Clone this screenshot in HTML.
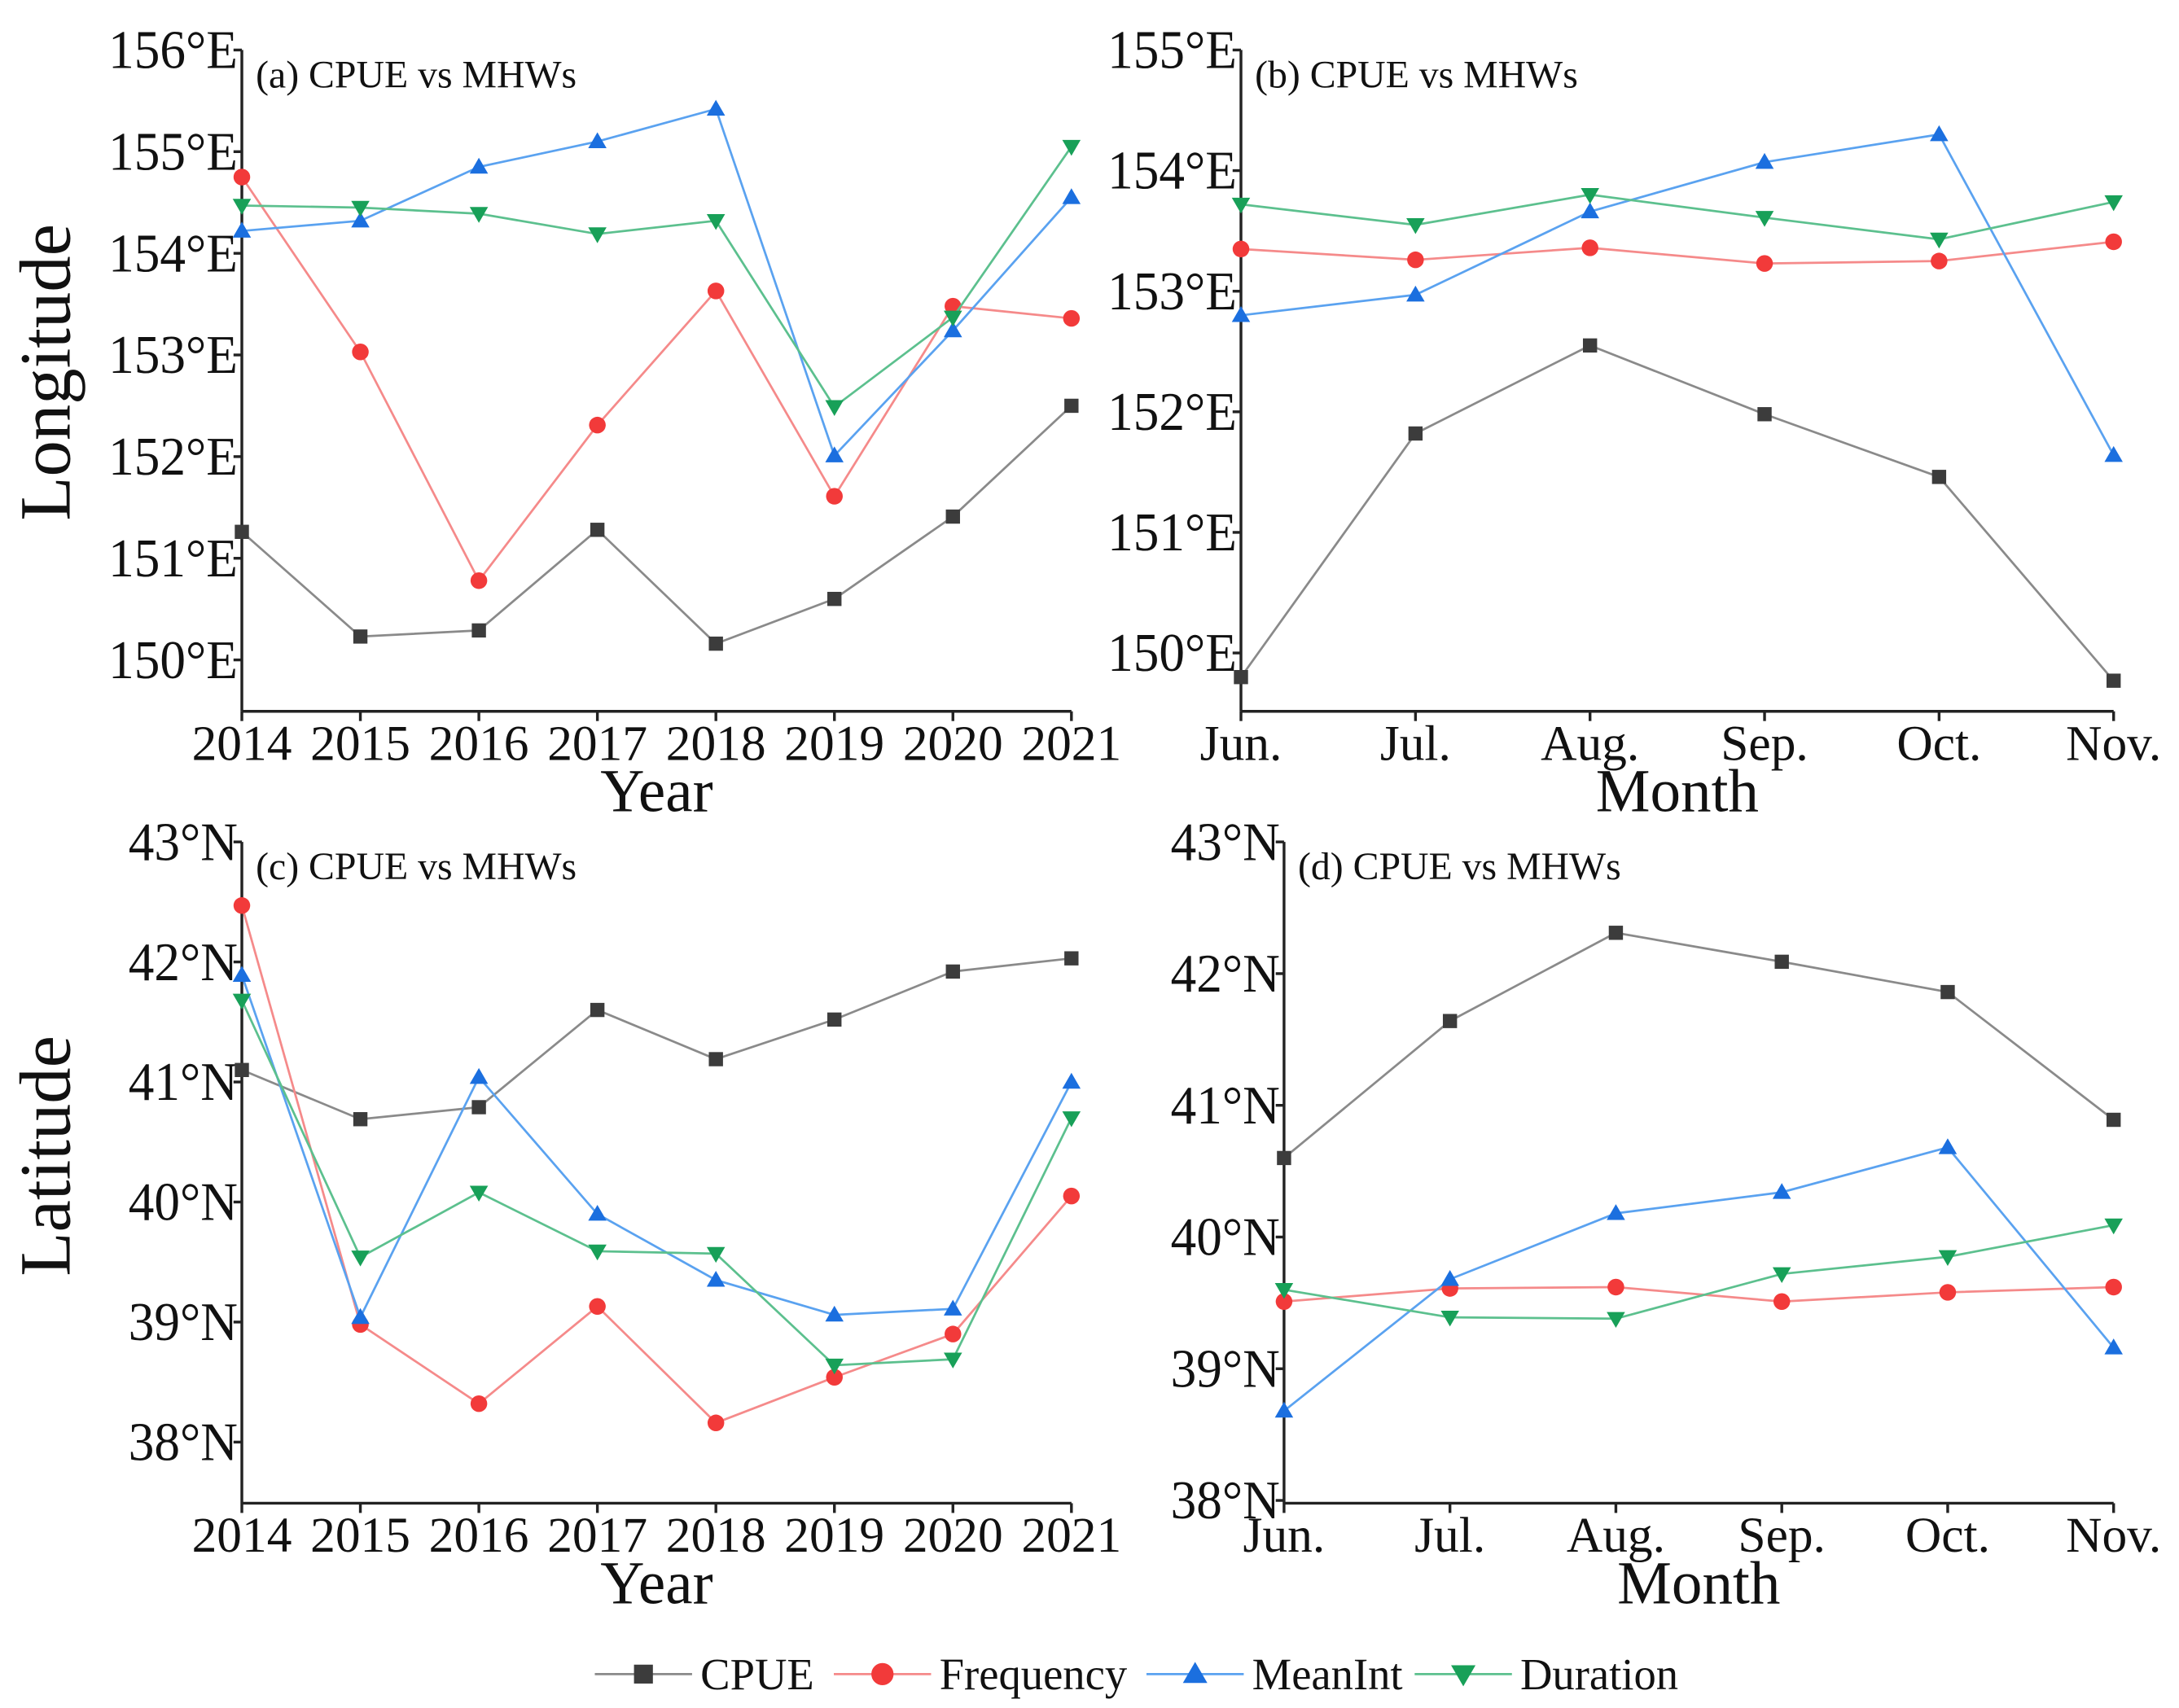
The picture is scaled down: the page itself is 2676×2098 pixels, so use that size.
<!DOCTYPE html>
<html><head><meta charset="utf-8"><style>
html,body{margin:0;padding:0;background:#fff;}
svg{display:block;}
text{font-family:"Liberation Serif",serif;fill:#111;}
</style></head><body>
<svg id="chart" width="2676" height="2098" viewBox="0 0 1568 1229.4" xmlns="http://www.w3.org/2000/svg"></svg>
<script>
const years = ["2014","2015","2016","2017","2018","2019","2020","2021"];
const months = ["Jun.","Jul.","Aug.","Sep.","Oct.","Nov."];
const seriesNames = ["CPUE","Frequency","MeanInt","Duration"];
// (a) longitude vs year
const aCPUE = [151.26,150.23,150.29,151.28,150.16,150.6,151.41,152.5];
const aFreq = [154.75,153.03,150.78,152.31,153.63,151.61,153.48,153.36];
const aMean = [154.22,154.32,154.85,155.1,155.42,152.01,153.24,154.55];
const aDur  = [154.47,154.45,154.39,154.19,154.32,152.49,153.37,155.05];
// (b) longitude vs month
const bCPUE = [149.8,151.82,152.55,151.98,151.46,149.77];
const bFreq = [153.35,153.26,153.36,153.23,153.25,153.41];
const bMean = [152.8,152.97,153.66,154.07,154.3,151.64];
const bDur  = [153.72,153.55,153.8,153.61,153.43,153.74];
// (c) latitude vs year
const cCPUE = [41.1,40.69,40.79,41.6,41.19,41.52,41.92,42.03];
const cFreq = [42.47,38.98,38.32,39.13,38.16,38.54,38.9,40.05];
const cMean = [41.89,39.04,41.04,39.9,39.35,39.06,39.11,41.0];
const cDur  = [41.68,39.54,40.08,39.59,39.57,38.64,38.69,40.7];
// (d) latitude vs month
const dCPUE = [40.6,41.64,42.31,42.09,41.86,40.89];
const dFreq = [39.51,39.61,39.62,39.51,39.58,39.62];
const dMean = [38.68,39.68,40.18,40.34,40.68,39.16];
const dDur  = [39.6,39.39,39.38,39.72,39.85,40.09];
const lonTicks = [150,151,152,153,154,155,156];
const lonTicksB = [150,151,152,153,154,155];
const latTicks = [38,39,40,41,42,43];

const NS="http://www.w3.org/2000/svg";
const svg=document.getElementById('chart');
function el(tag,attrs,parent){const e=document.createElementNS(NS,tag);for(const k in attrs)e.setAttribute(k,attrs[k]);(parent||svg).appendChild(e);return e;}
const colors=[{l:"#8a8a8a",m:"#3c3c3c"},{l:"#f58a8a",m:"#f23a3a"},{l:"#5aa2f0",m:"#1b6fdf"},{l:"#5cc08e",m:"#18a058"}];

function marker(g,i,x,y,r){
  const c=colors[i].m;let e;
  if(i===0) e=el('rect',{x:x-r*0.85,y:y-r*0.85,width:r*1.7,height:r*1.7,fill:c},g);
  else if(i===1) e=el('circle',{cx:x,cy:y,r:r,fill:c},g);
  else if(i===2) e=el('polygon',{points:`${x},${y-r*1.1} ${x-r*1.1},${y+r*0.8} ${x+r*1.1},${y+r*0.8}`,fill:c},g);
  else e=el('polygon',{points:`${x},${y+r*1.1} ${x-r*1.1},${y-r*0.8} ${x+r*1.1},${y-r*0.8}`,fill:c},g);
  return e;
}

function panel(p){
  const g=el('g',{});
  
  
  const xs=i=>p.x0+(p.x1-p.x0)*i/(p.cats.length-1);
  const ys=v=>p.yTop+(p.yMaxTick-v)*(p.yBot-p.yTop)/(p.yMaxTick-p.yMinTick);
  const ax=el('line',{x1:p.x0,y1:p.axTop,x2:p.x0,y2:p.axBot,stroke:"#222","stroke-width":2},g);
  
  const bx=el('line',{x1:p.x0,y1:p.axBot,x2:p.x1,y2:p.axBot,stroke:"#222","stroke-width":2},g);
  
  p.ticks.forEach(t=>{
    const y=ys(t);
    el('line',{x1:p.x0-6,y1:y,x2:p.x0,y2:y,stroke:"#222","stroke-width":2},g);
    const tx=el('text',{x:p.x0-3,y:y+13,"text-anchor":"end","font-size":39,transform:`translate(${p.x0-3},0) scale(0.95,1) translate(${-(p.x0-3)},0)`},g);
    tx.textContent=t+"°"+p.unit;
    
  });
  p.cats.forEach((c,i)=>{
    const x=xs(i);
    el('line',{x1:x,y1:p.axBot,x2:x,y2:p.axBot+7,stroke:"#222","stroke-width":2},g);
    const tx=el('text',{x:x,y:p.axBot+35,"text-anchor":"middle","font-size":36},g);
    tx.textContent=c;
    
  });
  const xt=el('text',{x:(p.x0+p.x1)/2,y:p.axBot+72,"text-anchor":"middle","font-size":44},g);
  xt.textContent=p.xTitle;
  
  const lt=el('text',{x:p.x0+10,y:p.axTop+27,"font-size":28},g);
  lt.textContent=p.label;
  
  p.series.forEach((vals,i)=>{
    const sg=el('g',{},g);
    
    
    const pts=vals.map((v,j)=>xs(j)+","+ys(v)).join(" ");
    const pl=el('polyline',{points:pts,fill:"none",stroke:colors[i].l,"stroke-width":1.6},sg);
    
    
    vals.forEach((v,j)=>{
      const m=marker(sg,i,xs(j),ys(v),6);
      
      
    });
  });
}

panel({id:'a',x0:174,x1:771,axTop:36,axBot:512,yTop:36,yBot:475,yMaxTick:156,yMinTick:150,ticks:lonTicks,unit:"E",cats:years,xTitle:"Year",label:"(a) CPUE vs MHWs",series:[aCPUE,aFreq,aMean,aDur]});
panel({id:'b',x0:893,x1:1521,axTop:36,axBot:512,yTop:36,yBot:470,yMaxTick:155,yMinTick:150,ticks:lonTicksB,unit:"E",cats:months,xTitle:"Month",label:"(b) CPUE vs MHWs",series:[bCPUE,bFreq,bMean,bDur]});
panel({id:'c',x0:174,x1:771,axTop:606,axBot:1082,yTop:606,yBot:1038,yMaxTick:43,yMinTick:38,ticks:latTicks,unit:"N",cats:years,xTitle:"Year",label:"(c) CPUE vs MHWs",series:[cCPUE,cFreq,cMean,cDur]});
panel({id:'d',x0:924,x1:1521,axTop:606,axBot:1082,yTop:606,yBot:1080,yMaxTick:43,yMinTick:38,ticks:latTicks,unit:"N",cats:months,xTitle:"Month",label:"(d) CPUE vs MHWs",series:[dCPUE,dFreq,dMean,dDur]});

const yt1=el('text',{x:0,y:0,"text-anchor":"middle","font-size":52,transform:"translate(50,268) rotate(-90)"});
yt1.textContent="Longitude";

const yt2=el('text',{x:0,y:0,"text-anchor":"middle","font-size":52,transform:"translate(50,832) rotate(-90)"});
yt2.textContent="Latitude";


const legend=el('g',{});

const legX=[428,600,825,1018];
seriesNames.forEach((n,i)=>{
  const eg=el('g',{},legend);
  
  
  const x=legX[i];
  el('line',{x1:x,y1:1205,x2:x+70,y2:1205,stroke:colors[i].l,"stroke-width":1.6},eg);
  marker(eg,i,x+35,1205,8);
  const t=el('text',{x:x+76,y:1216,"font-size":32},eg);
  t.textContent=n;
});
</script>
</body></html>
